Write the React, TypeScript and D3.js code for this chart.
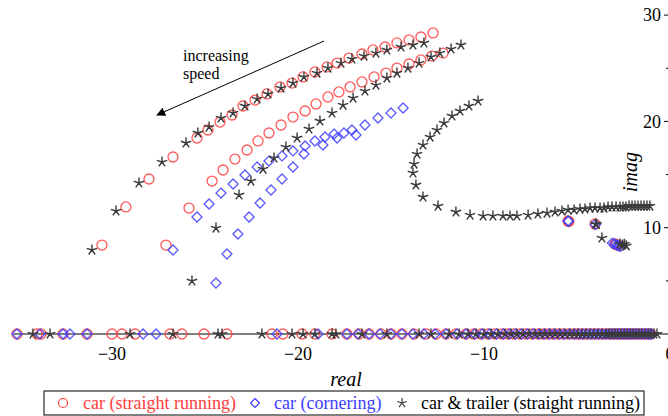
import React from 'react';
import * as d3 from 'd3';

const carStraightUpper = [
  [-30.54, 8.37], [-29.25, 11.95], [-28.01, 14.58], [-26.72, 16.65], [-25.43, 18.44], [-24.84, 19.19],
  [-24.19, 19.94], [-23.55, 20.6], [-22.96, 21.45], [-22.31, 22.01], [-21.67, 22.58], [-20.97, 23.24],
  [-20.32, 23.61], [-19.73, 24.18], [-19.09, 24.65], [-18.44, 25.12], [-17.9, 25.49], [-17.26, 25.96],
  [-16.56, 26.34], [-15.97, 26.72], [-15.32, 27.0], [-14.68, 27.38], [-14.03, 27.66], [-13.39, 27.94],
  [-12.74, 28.32],
];
const carStraightLower = [
  [-27.1, 8.37], [-25.86, 11.85], [-24.62, 14.39], [-24.03, 15.43], [-23.39, 16.46], [-22.74, 17.31],
  [-22.15, 18.16], [-21.56, 18.91], [-20.91, 19.66], [-20.27, 20.41], [-19.62, 20.98], [-19.03, 21.64],
  [-18.39, 22.3], [-17.8, 22.77], [-17.2, 23.24], [-16.56, 23.71], [-15.91, 24.18], [-15.27, 24.55],
  [-14.68, 25.02], [-14.03, 25.4], [-13.39, 25.78], [-12.8, 26.15], [-12.2, 26.43],
];
const carStraightLow = [[-5.48, 10.63], [-5.44, 10.58], [-4.03, 10.35], [-2.96, 8.47], [-2.88, 8.4], [-2.7, 8.3]];
const carStraightReal = [
  -35.11, -34.03, -33.82, -32.63, -31.34, -30.0, -29.46, -28.76, -26.88, -26.24, -25.05, -23.82, -21.4,
  -20.81, -19.78, -19.09, -18.17, -17.37, -16.72, -16.18, -15.54, -15.0, -14.41, -13.76, -13.12, -12.58,
  -12.04, -11.51, -10.97, -10.54, -10.16, -9.78, -9.41, -9.03, -8.71, -8.39, -8.06, -7.74, -7.42, -7.1,
  -6.83, -6.56, -6.29, -6.02, -5.75, -5.48, -5.22, -5.0, -4.78, -4.57, -4.35, -4.14, -3.92, -3.71, -3.49,
  -3.28, -3.12, -2.96, -2.8, -2.63, -2.47, -2.31, -2.15, -1.99, -1.83, -1.67, -1.51, -1.34, -1.18, -1.02,
];

const carCorneringUpper = [
  [-26.72, 7.9], [-25.43, 11.01], [-24.78, 12.23], [-24.14, 13.26], [-23.49, 14.11], [-22.85, 14.96],
  [-22.2, 15.71], [-21.56, 16.27], [-20.86, 16.75], [-20.27, 17.22], [-19.62, 17.69], [-19.09, 18.16],
  [-18.55, 18.53], [-18.06, 18.81], [-17.53, 18.91], [-17.1, 19.19], [-16.4, 19.66], [-15.7, 20.32],
  [-15.0, 20.79], [-14.35, 21.26],
];
const carCorneringLower = [
  [-24.41, 4.8], [-23.82, 7.53], [-23.23, 9.41], [-22.63, 11.01], [-22.04, 12.32], [-21.45, 13.55],
  [-20.86, 14.58], [-20.27, 15.71], [-19.68, 16.93], [-18.66, 17.78], [-17.9, 18.44], [-16.88, 18.72],
];
const carCorneringLow = [
  [-5.48, 10.63], [-5.46, 10.6], [-4.01, 10.3], [-3.1, 8.55], [-2.98, 8.47], [-2.85, 8.37], [-2.78, 8.3],
  [-2.65, 8.25],
];
const carCorneringReal = [
  -35.11, -33.87, -32.63, -32.26, -31.34, -28.33, -27.63, -21.13, -18.92, -17.37, -16.77, -16.18, -15.59,
  -15.0, -14.41, -13.82, -13.23, -12.63, -12.04, -11.45, -10.97, -10.5, -10.1, -9.7, -9.32, -8.95, -8.62,
  -8.3, -7.98, -7.66, -7.35, -7.04, -6.76, -6.48, -6.21, -5.94, -5.67, -5.4, -5.14, -4.9, -4.68, -4.46,
  -4.25, -4.04, -3.83, -3.62, -3.42, -3.22, -3.04, -2.88, -2.72, -2.56, -2.4, -2.24, -2.08, -1.92, -1.76,
  -1.6, -1.44, -1.28, -1.12, -1.0,
];

const trailerUpper = [
  [-31.08, 7.9], [-29.78, 11.57], [-28.55, 14.21], [-27.31, 16.18], [-26.02, 17.97], [-25.38, 18.91],
  [-24.78, 19.47], [-24.14, 20.32], [-23.49, 20.79], [-22.85, 21.45], [-22.2, 22.11], [-21.61, 22.58],
  [-20.91, 23.14], [-20.27, 23.61], [-19.68, 24.18], [-18.98, 24.55], [-18.39, 25.02], [-17.69, 25.49],
  [-17.1, 25.87], [-16.45, 26.15], [-15.81, 26.43], [-15.22, 26.72], [-14.46, 27.0], [-13.82, 27.19],
  [-13.23, 27.38],
];
const trailerMiddle = [
  [-25.7, 4.99], [-24.41, 9.97], [-23.17, 13.08], [-22.53, 14.39], [-21.88, 15.52], [-21.29, 16.56],
  [-20.65, 17.59], [-20.05, 18.44], [-19.41, 19.29], [-18.82, 20.04], [-18.17, 20.79], [-17.58, 21.54],
  [-17.04, 22.2], [-16.4, 22.86], [-15.81, 23.42], [-15.22, 24.08], [-14.68, 24.55], [-14.09, 25.02],
  [-13.49, 25.49], [-12.85, 26.06], [-12.37, 26.43], [-11.77, 26.81], [-11.24, 27.19],
];
const trailerLoop = [
  [-10.32, 21.92], [-10.81, 21.45], [-11.29, 20.98], [-11.72, 20.51], [-12.15, 19.85], [-12.53, 19.19],
  [-12.9, 18.53], [-13.28, 17.78], [-13.6, 16.93], [-13.76, 15.99], [-13.82, 15.15], [-13.66, 14.02],
  [-13.28, 12.89], [-12.47, 12.04], [-11.51, 11.48], [-10.75, 11.19], [-10.05, 11.1], [-9.52, 11.1],
  [-8.98, 11.1], [-8.6, 11.1], [-8.23, 11.1], [-7.63, 11.19], [-7.1, 11.29], [-6.61, 11.38], [-6.18, 11.48],
  [-5.81, 11.57], [-5.48, 11.67], [-5.16, 11.67], [-4.84, 11.76], [-4.57, 11.76], [-4.3, 11.85],
  [-4.03, 11.85], [-3.76, 11.85], [-3.55, 11.85], [-3.33, 11.95], [-3.12, 11.95], [-2.9, 11.95],
  [-2.69, 11.95], [-2.53, 11.95], [-2.37, 11.95], [-2.2, 12.04], [-2.04, 12.04], [-1.88, 12.04],
  [-1.72, 12.04], [-1.56, 12.04], [-1.4, 12.04], [-1.24, 12.04], [-1.08, 12.04],
];
const trailerLow = [
  [-4.0, 10.35], [-3.95, 10.3], [-3.66, 9.03], [-2.69, 8.47], [-2.55, 8.37], [-2.45, 8.45], [-2.35, 8.3],
];
const trailerReal = [
  -34.25, -33.33, -29.03, -26.72, -24.3, -24.09, -21.94, -20.32, -19.73, -19.09, -18.17, -17.96, -16.56,
  -15.22, -13.49, -12.85, -11.88, -11.34, -10.86, -10.43, -10.0, -9.62, -9.25, -8.87, -8.55, -8.23, -7.9,
  -7.58, -7.26, -6.99, -6.72, -6.45, -6.18, -5.91, -5.65, -5.38, -5.16, -4.95, -4.73, -4.52, -4.3, -4.09,
  -3.87, -3.66, -3.44, -3.28, -3.12, -2.96, -2.8, -2.63, -2.47, -2.31, -2.15, -1.99, -1.83, -1.67, -1.51,
  -1.34, -1.18, -1.02, -0.86, -0.7,
];

const xTicks = [-30, -20, -10, 0];
const yTicks = [10, 20, 30];
const yMinorTicks = [5, 15, 25];
const legendLabels = ['car (straight running)', 'car (cornering)', 'car & trailer (straight running)'];

// annotation arrow, in data units
const arrowFrom = [-18.6, 27.56];
const arrowTo = [-27.58, 20.6];

const width = 668;
const height = 416;
const serif = { fontFamily: "'Liberation Serif', 'Times New Roman', serif" };
const red = '#ff3c3c';
const blue = '#3c3cff';
const grey = '#3a3a3a';

const x = d3.scaleLinear().domain([-36, 0]).range([0.4, 670]);
const y = d3.scaleLinear().domain([0, 30]).range([334, 15.1]);

const onAxis = (vals: number[]) => vals.map((v) => [v, 0]);

const carStraight = [...carStraightUpper, ...carStraightLower, ...carStraightLow, ...onAxis(carStraightReal)];
const carCornering = [...carCorneringUpper, ...carCorneringLower, ...carCorneringLow, ...onAxis(carCorneringReal)];
const trailer = [...trailerUpper, ...trailerMiddle, ...trailerLoop, ...trailerLow, ...onAxis(trailerReal)];

// 5 armed asterisk like the matlab '*' marker
const starPath = (r: number) => {
  let p = '';
  for (let k = 0; k < 5; k++) {
    const a = ((-90 + 72 * k) * Math.PI) / 180;
    p += `M0,0L${(r * Math.cos(a)).toFixed(2)},${(r * Math.sin(a)).toFixed(2)}`;
  }
  return p;
};

const Circle = ({ cx, cy }: { cx: number; cy: number }) => (
  <circle cx={cx} cy={cy} r={5} fill="none" stroke={red} strokeWidth={1.3} opacity={0.85} />
);
const Diamond = ({ cx, cy }: { cx: number; cy: number }) => (
  <path
    d="M0,-5L5,0L0,5L-5,0Z"
    transform={`translate(${cx},${cy})`}
    fill="none"
    stroke={blue}
    strokeWidth={1.3}
    opacity={0.85}
  />
);
const Star = ({ cx, cy }: { cx: number; cy: number }) => (
  <path d={starPath(5.5)} transform={`translate(${cx},${cy})`} fill="none" stroke={grey} strokeWidth={1.4} />
);

export default function App() {
  const axisLeft = x(-35.3);
  return (
    <div style={{ position: 'absolute', left: 0, top: 0 }}>
      <svg width={width} height={height} style={{ display: 'block', background: '#fff', ...serif }}>
        <defs>
          <marker id="head" viewBox="0 0 10 10" refX="9" refY="5" markerWidth="9" markerHeight="9" orient="auto">
            <path d="M0,0L10,5L0,10Z" fill="#000" />
          </marker>
        </defs>

        {/* x axis */}
        <line x1={axisLeft} x2={670} y1={y(0)} y2={y(0)} stroke="#000" strokeWidth={1} />
        {xTicks.map((t) => (
          <text key={t} x={x(t)} y={360} textAnchor="middle" fontSize={18} style={serif}>
            {t < 0 ? `\u2212${Math.abs(t)}` : t}
          </text>
        ))}
        <text x={346} y={386} textAnchor="middle" fontSize={20} fontStyle="italic" style={serif}>
          real
        </text>

        {/* y axis sits on the right edge (real = 0) */}
        {yTicks.map((t) => (
          <g key={t}>
            <line x1={664} x2={670} y1={y(t)} y2={y(t)} stroke="#000" />
            <text x={661} y={y(t)} dy="0.35em" textAnchor="end" fontSize={18} style={serif}>
              {t}
            </text>
          </g>
        ))}
        {yMinorTicks.map((t) => (
          <line key={t} x1={666} x2={670} y1={y(t)} y2={y(t)} stroke="#000" />
        ))}
        <text
          transform={`translate(637,172) rotate(-90)`}
          textAnchor="middle"
          fontSize={20}
          fontStyle="italic"
          style={serif}
        >
          imag
        </text>

        {/* markers */}
        {carStraight.map((d, i) => (
          <Circle key={'c' + i} cx={x(d[0])} cy={y(d[1])} />
        ))}
        {carCornering.map((d, i) => (
          <Diamond key={'d' + i} cx={x(d[0])} cy={y(d[1])} />
        ))}
        {trailer.map((d, i) => (
          <Star key={'s' + i} cx={x(d[0])} cy={y(d[1])} />
        ))}

        {/* annotation */}
        <line
          x1={x(arrowFrom[0])}
          y1={y(arrowFrom[1])}
          x2={x(arrowTo[0])}
          y2={y(arrowTo[1])}
          stroke="#000"
          strokeWidth={1}
          markerEnd="url(#head)"
        />
        <text x={183} y={61} fontSize={16} style={serif}>
          increasing
        </text>
        <text x={183} y={79} fontSize={16} style={serif}>
          speed
        </text>

        {/* legend */}
        <rect x={44} y={391} width={600} height={24} fill="#fff" stroke="#000" strokeWidth={1} />
        <circle cx={63} cy={403} r={4.5} fill="none" stroke={red} strokeWidth={1.2} />
        <text x={83} y={409} fontSize={18} fill={red} style={serif}>
          {legendLabels[0]}
        </text>
        <path d="M0,-4.5L4.5,0L0,4.5L-4.5,0Z" transform="translate(255,403)" fill="none" stroke={blue} strokeWidth={1.2} />
        <text x={274} y={409} fontSize={18} fill={blue} style={serif}>
          {legendLabels[1]}
        </text>
        <path d={starPath(5)} transform="translate(402,403)" fill="none" stroke={grey} strokeWidth={1.2} />
        <text x={421} y={409} fontSize={18} fill="#000" style={serif}>
          {legendLabels[2]}
        </text>
      </svg>
    </div>
  );
}
